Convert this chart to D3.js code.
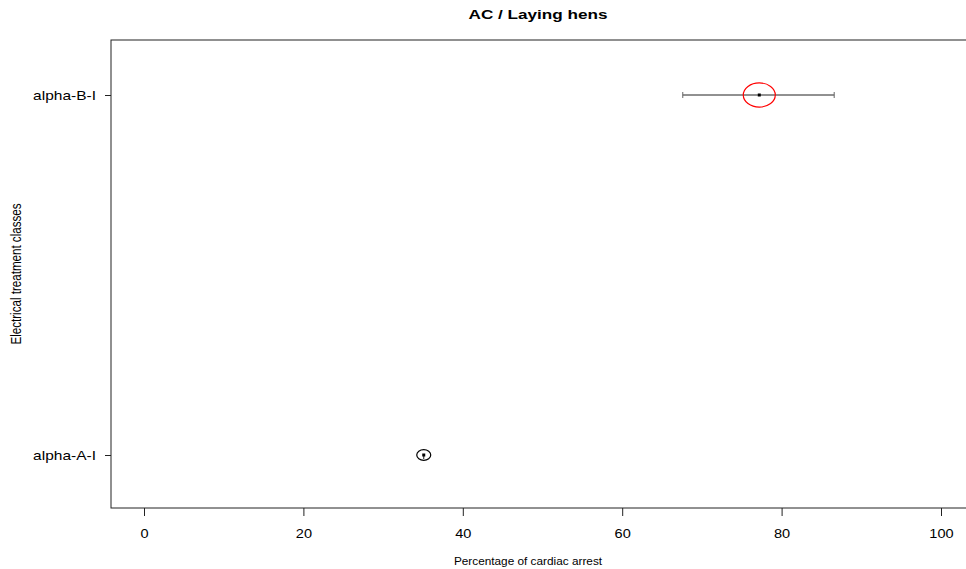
<!DOCTYPE html>
<html><head><meta charset="utf-8">
<script src="https://cdn.jsdelivr.net/npm/d3@7"></script>
<style>body{margin:0;background:#fff}svg{font-family:"Liberation Sans",Arial,sans-serif}</style>
</head><body>
<svg id="c" width="966" height="569"></svg>
<script>
const categories = ["alpha-A-I", "alpha-B-I"];
const estimates = [35.1, 77.2];
const lower = [35.1, 67.6];
const upper = [35.1, 86.6];
const circleColors = ["#000000", "#ff0000"];
const circleSizes = [7, 16];
const xTicks = [0, 20, 40, 60, 80, 100];

const svg = d3.select("#c");
const L = 111, T = 40, R = 975, B = 508;
const x = d3.scaleLinear().domain([0, 100]).range([144, 941]);
const y = d3.scalePoint().domain(categories).range([455, 95]);

svg.append("rect").attr("x", L).attr("y", T).attr("width", R - L).attr("height", B - T)
  .attr("fill", "none").attr("stroke", "#222").attr("stroke-width", 1);

const xa = svg.append("g").attr("transform", `translate(0,${B})`)
  .call(d3.axisBottom(x).tickValues(xTicks).tickSize(8).tickPadding(13).tickFormat(d3.format("d")));
xa.select(".domain").remove();
xa.selectAll("text").attr("font-size", 13).attr("fill", "#000")
  .style("font-family", "Liberation Sans, Arial, sans-serif").attr("transform", "scale(1.12,1)");
xa.selectAll("line").attr("stroke", "#222");

const ya = svg.append("g").attr("transform", `translate(${L},0)`)
  .call(d3.axisLeft(y).tickSize(6).tickPadding(9));
ya.select(".domain").remove();
ya.selectAll("text").attr("font-size", 12.5).attr("fill", "#000")
  .style("font-family", "Liberation Sans, Arial, sans-serif")
  .attr("x", 0).attr("transform", "translate(-15,0) scale(1.24,1)");
ya.selectAll("line").attr("stroke", "#222");

svg.append("text").attr("transform", "translate(538,19) scale(1.27,1)").attr("text-anchor", "middle")
  .attr("font-size", 13.5).attr("font-weight", "bold").text("AC / Laying hens");
svg.append("text").attr("x", 528).attr("y", 565).attr("text-anchor", "middle")
  .attr("font-size", 11.8).text("Percentage of cardiac arrest");
svg.append("text").attr("transform", "translate(21,274) rotate(-90) scale(0.84,1)").attr("text-anchor", "middle")
  .attr("font-size", 13.8).text("Electrical treatment classes");

const g = svg.append("g");
categories.forEach((c, i) => {
  const cy = y(c);
  if (upper[i] > lower[i]) {
    g.append("line").attr("x1", x(lower[i])).attr("x2", x(upper[i])).attr("y1", cy).attr("y2", cy).attr("stroke", "#222");
    [lower[i], upper[i]].forEach(v => g.append("line").attr("x1", x(v)).attr("x2", x(v)).attr("y1", cy - 3).attr("y2", cy + 3).attr("stroke", "#666"));
  } else {
    g.append("line").attr("x1", x(estimates[i])).attr("x2", x(estimates[i])).attr("y1", cy).attr("y2", cy + 4).attr("stroke", "#222");
  }
  g.append("rect").attr("x", x(estimates[i]) - 1.5).attr("y", cy - 1.5).attr("width", 3).attr("height", 3).attr("fill", "#000");
  g.append("ellipse").attr("cx", x(estimates[i])).attr("cy", cy)
    .attr("rx", circleSizes[i]).attr("ry", circleSizes[i] * 0.76)
    .attr("fill", "none").attr("stroke", circleColors[i]).attr("stroke-width", 1.2);
});
</script>
</body></html>
